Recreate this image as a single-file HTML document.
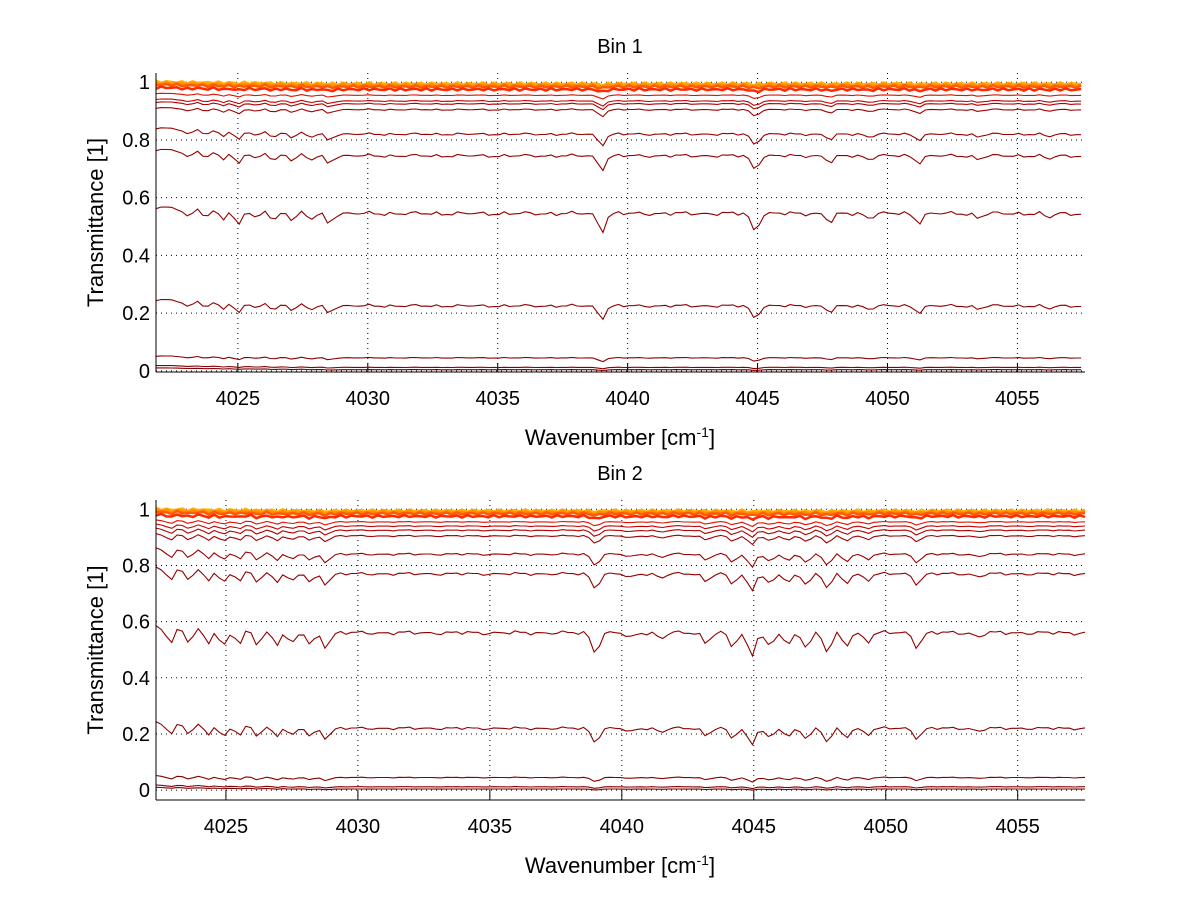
<!DOCTYPE html>
<html><head><meta charset="utf-8"><style>
body{margin:0;background:#fff}
svg text{font-family:"Liberation Sans",sans-serif;fill:#000}
</style></head><body>
<svg id="c" width="1200" height="901" xmlns="http://www.w3.org/2000/svg"></svg>
<script>
const levels1=[0.995,0.99,0.985,0.975,0.955,0.935,0.925,0.905,0.82,0.745,0.545,0.225,0.045,0.012,0.004];
const levels2=[0.995,0.99,0.985,0.975,0.955,0.94,0.925,0.905,0.84,0.77,0.56,0.22,0.045,0.012,0.004];
const lines1=[4023.1,4023.8,4024.4,4025.0,4025.7,4026.4,4027.1,4027.8,4028.5,4039.0,4044.9,4047.8,4049.3,4051.2,4053.5,4056.2];
const depth1=[0.03,0.03,0.03,0.05,0.03,0.03,0.025,0.025,0.035,0.06,0.06,0.03,0.015,0.03,0.015,0.015];
const lines2=[4022.9,4023.6,4024.3,4024.9,4025.5,4026.2,4026.9,4027.5,4028.2,4028.8,4039.0,4040.3,4041.5,4043.2,4044.2,4044.9,4045.6,4046.3,4047.0,4047.8,4048.5,4049.3,4051.2,4053.5];
const depth2=[0.05,0.05,0.05,0.06,0.05,0.05,0.045,0.045,0.045,0.05,0.07,0.02,0.02,0.035,0.05,0.08,0.05,0.045,0.05,0.07,0.045,0.03,0.05,0.015];
const xTicks=[4025,4030,4035,4040,4045,4050,4055];
const yTicks=[0,0.2,0.4,0.6,0.8,1];
const colors=["#ffb000","#ff8c00","#ff5a00","#ff2a00","#e01000","#c40000","#b00000","#a00000","#990000","#930000","#900000","#8c0000","#880000","#880000","#800000"];
const NS="http://www.w3.org/2000/svg",svg=document.getElementById('c');
function el(t,a,p){const e=document.createElementNS(NS,t);for(const k in a)e.setAttribute(k,a[k]);(p||svg).appendChild(e);return e;}
function panel(P){
 const g=el('g',{});
 
 
 const sx=v=>P.x0+(v-P.xmin)/(P.xmax-P.xmin)*(P.x1-P.x0);
 const sy=v=>P.y0-(v-P.ymin)/(P.ymax-P.ymin)*(P.y0-P.y1);
 xTicks.forEach(t=>{const l=el('line',{x1:sx(t),x2:sx(t),y1:P.y1,y2:P.y0,stroke:'#000','stroke-width':1,'stroke-dasharray':'1,4'},g);
  
  el('line',{x1:sx(t),x2:sx(t),y1:P.y0,y2:P.y0-9,stroke:'#000'},g);
  const tx=el('text',{x:sx(t),y:P.y0+33,'font-size':20,'text-anchor':'middle'},g);tx.textContent=t;
  });
 yTicks.forEach(t=>{const l=el('line',{x1:P.x0,x2:P.x1,y1:sy(t),y2:sy(t),stroke:'#000','stroke-dasharray':'1,4'},g);
  
  const tx=el('text',{x:P.x0-6,y:sy(t)+7,'font-size':20,'text-anchor':'end'},g);tx.textContent=String(t);
  });
 P.levels.forEach((L,i)=>{
  let d='';const s=(L*(1-L))*4+0.03;
  for(let x=P.xmin;x<=P.xmax+0.001;x+=0.2){
   let v=L;
   if(x<4029)v+=(4029-x)*0.003*(L>0.1&&L<0.9?1:0.3);
   v+=s*(0.004*Math.sin(x*7.3)+0.003*Math.sin(x*17.1+1)+0.002*Math.sin(x*3.1));
   P.lines.forEach((c,j)=>{v-=P.depth[j]*s*Math.exp(-Math.pow((x-c)/0.2,2));});
   if(L>0.97)v+=0.004*Math.sin(x*13+i);
   v=Math.min(v,1.02);
   d+=(d?'L':'M')+sx(x).toFixed(1)+','+sy(v).toFixed(1);
  }
  const p=el('path',{d:d,fill:'none',stroke:colors[i],'stroke-width':L>0.97?2.5:1.1},g);
  
 });
 el('line',{x1:P.x0,x2:P.x0,y1:P.y1,y2:P.y0,stroke:'#000'},g);
 el('line',{x1:P.x0,x2:P.x1,y1:P.y0,y2:P.y0,stroke:'#000'},g);
 const ti=el('text',{x:620,y:P.y1-20,'font-size':20,'text-anchor':'middle'},g);ti.textContent=P.title;
 
 const xl=el('text',{x:620,y:P.y0+73,'font-size':22,'text-anchor':'middle'},g);
 xl.innerHTML='Wavenumber [cm<tspan dy="-8" font-size="14">-1</tspan><tspan dy="8">]</tspan>';
 
 const cy=(P.y0+P.y1)/2;
 const yl=el('text',{x:103,y:cy,'font-size':22,'text-anchor':'middle',transform:`rotate(-90 103 ${cy})`},g);yl.textContent='Transmittance [1]';
 
}
panel({name:'bin-1-panel',title:'Bin 1',x0:156,x1:1085,y0:372,y1:73,xmin:4021.85,xmax:4057.6,ymin:-0.004,ymax:1.032,levels:levels1,lines:lines1,depth:depth1});
panel({name:'bin-2-panel',title:'Bin 2',x0:156,x1:1085,y0:800,y1:500,xmin:4022.35,xmax:4057.55,ymin:-0.035,ymax:1.033,levels:levels2,lines:lines2,depth:depth2});
</script>
</body></html>
